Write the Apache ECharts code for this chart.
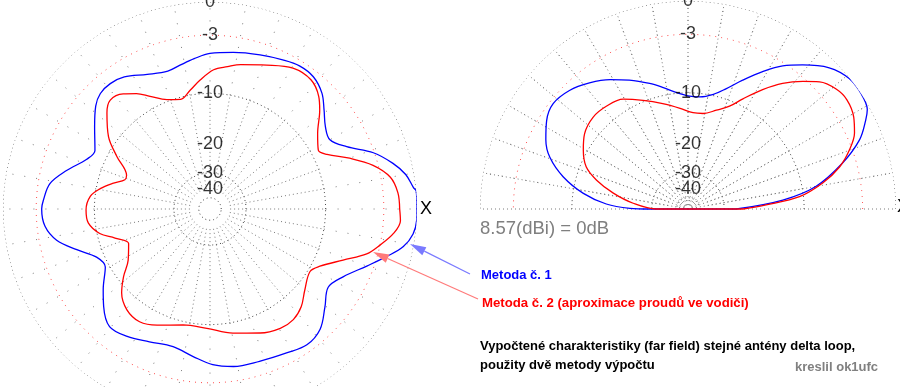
<!DOCTYPE html>
<html><head><meta charset="utf-8">
<script src="https://cdn.jsdelivr.net/npm/echarts@6/dist/echarts.min.js"></script>
<style>html,body{margin:0;padding:0;background:#fff}#c{width:900px;height:387px}</style>
</head><body><div id="c"></div>
<script>
// ---- data (dB relative to 8.57 dBi) ----
const azAngle1 = [0,5,6,10,14,19,24.5,30,35.5,41,46,52,58,64,72,81.5,90,96,102,107,115,123,128.5,133.5,138,144.5,153,158,165,171,177,180,186,191.5,197,203,209,217,222.5,229.5,237,245.5,255,263.5,271,278.5,288,298,305.5,312.5,319.5,326.5,333,340,345,349,353,357];
const azDb1 = [0,0,-0.2,-0.7,-1.6,-3.1,-5.5,-6.9,-6.5,-5.4,-4.3,-3.6,-3.5,-3.8,-4.2,-4.6,-4.9,-5.4,-5.9,-6.2,-5.7,-4.7,-4.4,-4.5,-5.1,-6.5,-8.1,-7.6,-5.7,-4.2,-3.7,-3.55,-3.8,-4.8,-6.8,-8.9,-9.4,-7.5,-6.2,-5.0,-5.3,-6.0,-6.4,-5.7,-4.9,-4.5,-4.4,-4.1,-3.7,-4.1,-5.4,-6.5,-5.6,-3.7,-2.1,-0.85,-0.2,0];
const azAngle2 = [0,5,10,15,20,25,28.5,35,42,46,52,59.5,68.5,78,83,88.5,94.5,99.5,105,111.5,118,122.5,127,132.5,137,144.5,150.5,158,161,165,169.5,174,180.5,186.5,192.5,197,203,212,218,223.5,230.5,238,245.5,257,268.5,280.5,292,300.5,307,313,319.5,328,332.5,339,344,348,352.5,356.5];
const azDb2 = [-1.5,-1.6,-2.1,-3.5,-5.7,-8.1,-8.9,-7.8,-5.8,-4.8,-4.0,-4.05,-5.0,-5.8,-6.3,-6.8,-8.1,-9.3,-10.3,-9.7,-8.3,-7.1,-6.2,-5.8,-6.6,-8.7,-11.3,-14.3,-14.3,-12.5,-10.6,-9.3,-8.8,-9.0,-10.4,-12.6,-14.6,-13.1,-10.9,-9.1,-7.9,-7.6,-8.3,-9.5,-9.45,-8.5,-7.5,-6.9,-6.9,-7.5,-8.7,-9.65,-8.8,-6.4,-4.1,-3.0,-1.9,-1.4];
const elAngle1 = [0,5.4,10,16.5,22,26.5,29,33.5,39,45,51.5,56.5,61.5,67,72.5,77.5,84,90,95.5,101.5,107,114.5,121,128,135,142,148,154,159.5,165.5,171.5,176.5,179.3,180];
const elDb1 = [-25,-13.4,-8.1,-4.4,-2.0,-0.8,-0.25,0,-0.05,-0.7,-2.1,-3.3,-4.9,-6.8,-8.6,-9.8,-10.5,-10.45,-9.9,-8.9,-7.9,-6.6,-5.5,-4.5,-3.7,-3.35,-3.8,-4.7,-5.9,-8.2,-11.6,-16.0,-21.9,-29];
const elAngle2 = [0,3,6.3,11,15.5,20,24.5,29,34.5,39,44,48,53,58,63.5,68,74,81,87,94.5,103.5,112.5,120.5,128.5,136,144,150.5,157.5,162.5,168,174,180];
const elDb2 = [-22.8,-16.8,-10.6,-7.1,-4.8,-3.3,-2.2,-1.6,-1.3,-1.5,-2.2,-3.3,-4.8,-6.7,-9.0,-10.8,-12.1,-13.15,-13.2,-12.4,-11.2,-9.8,-8.4,-7.9,-7.8,-8.35,-9.4,-10.9,-13.3,-17.2,-22.8,-32.3];
const ringDb = [0,-3,-10,-30,-50];
const tickDb = [0,-3,-10,-20,-30,-40];
const tickLabels = ['0','-3','-10','-20','-30','-40'];
const spokeStep = 10;

// ARRL-style log scale: radius factor 0.89 per 2 dB
const q = db => Math.pow(0.89, -db / 2);

const ringCol = '#444';
const spokeCol = '#7a7a7a';
const series = [];
function ringSeries(pi, db, a0, a1) {
  const d = [];
  for (let a = a0; a <= a1; a += 1) d.push([q(db), a]);
  const red = db === -3;
  series.push({type:'line', coordinateSystem:'polar', polarIndex:pi, symbol:'none', silent:true, clip:false, z:1,
    data:d, lineStyle:{color: red ? '#ff4a4a' : ringCol, width:1, type: red ? [1,5] : [1,3]}});
}
function spokeSeries(pi, a0, a1, fromDb, toDb, dash, r0) {
  const d = [];
  for (let a = a0; a <= a1; a += spokeStep) {
    d.push([r0 !== undefined ? r0 : q(fromDb), a]); d.push([q(toDb), a]); d.push(['-','-']);
  }
  series.push({type:'line', coordinateSystem:'polar', polarIndex:pi, symbol:'none', silent:true, clip:false, z:1,
    connectNulls:false, data:d, lineStyle:{color:spokeCol, width:1, type:dash}});
}
function labelSeries(pi) {
  series.push({type:'scatter', coordinateSystem:'polar', polarIndex:pi, symbolSize:0, silent:true, clip:false, z:5,
    data: tickDb.map((db,i)=>({value:[q(db),90], label:{formatter:tickLabels[i]}})),
    label:{show:true, position:'inside', color:'#000', fontSize:18, fontFamily:'Liberation Sans, Arial, sans-serif'}});
}
function curve(pi, ang, db, color, close) {
  const d = ang.map((a,i)=>[q(db[i]), a]);
  if (close) d.push(d[0]);
  series.push({type:'line', coordinateSystem:'polar', polarIndex:pi, symbol:'none', clip:false, z:4,
    smooth:0.35, data:d, lineStyle:{color:color, width:1.3}});
}

// left: azimuth (full circle)
ringDb.forEach(db=>ringSeries(0, db, 0, 360));
spokeSeries(0, 0, 350, -40, -10, [1,3]);
spokeSeries(0, 0, 350, -10, 0, [1,11]);
labelSeries(0);
curve(0, azAngle1, azDb1, '#0000ff', true);
curve(0, azAngle2, azDb2, '#ff0000', true);
// right: elevation (upper half)
ringDb.forEach(db=>ringSeries(1, db, 0, 180));
spokeSeries(1, 10, 170, -40, -10, [1,3]);
spokeSeries(1, 10, 170, -10, 0, [1,11]);
spokeSeries(1, 0, 180, -50, 0, [1,3], 0);
labelSeries(1);
curve(1, elAngle1, elDb1, '#0000ff', true);
curve(1, elAngle2, elDb2, '#ff0000', true);

const chart = echarts.init(document.getElementById('c'), null, {renderer:'canvas'});
function arrow(x1,y1,x2,y2,color){
  const dx=x2-x1, dy=y2-y1, L=Math.hypot(dx,dy), ux=dx/L, uy=dy/L, nx=-uy, ny=ux, hl=16, hw=4.5;
  const bx=x2-ux*hl, by=y2-uy*hl;
  return [
    {type:'line', shape:{x1:x1,y1:y1,x2:bx,y2:by}, style:{stroke:color, lineWidth:1.2}, z:10},
    {type:'polygon', shape:{points:[[x2,y2],[bx+nx*hw,by+ny*hw],[bx-nx*hw,by-ny*hw]]}, style:{fill:color}, z:10}
  ];
}
const ff = 'Liberation Sans, Arial, sans-serif';
function txt(x,y,s,color,size,weight){
  return {type:'text', x:x, y:y, z:10, style:{text:s, fill:color, fontSize:size, fontWeight:weight||'normal', fontFamily:ff, textVerticalAlign:'middle', textAlign:'left'}};
}
chart.setOption({
  animation:false,
  backgroundColor:'#fff',
  polar:[{center:[210,209], radius:207},{center:[688,209], radius:208}],
  angleAxis:[
    {polarIndex:0, type:'value', min:0, max:360, startAngle:0, clockwise:false, show:false},
    {polarIndex:1, type:'value', min:0, max:360, startAngle:0, clockwise:false, show:false}],
  radiusAxis:[
    {polarIndex:0, type:'value', min:0, max:1, show:false},
    {polarIndex:1, type:'value', min:0, max:1, show:false}],
  series:series,
  graphic:[
    txt(420,209,'X','#000',18),
    txt(897,207,'X','#000',18),
    txt(480,229,'8.57(dBi) = 0dB','#7f7f7f',18.5),
    txt(481,275,'Metoda č. 1','#0000ff',13,'bold'),
    txt(482,303,'Metoda č. 2 (aproximace proudů ve vodiči)','#ff0000',13.2,'bold'),
    txt(480,346,'Vypočtené charakteristiky (far field) stejné antény delta loop,','#000',13,'bold'),
    txt(480,365,'použity dvě metody výpočtu','#000',13,'bold'),
    txt(795,367,'kreslil ok1ufc','#808080',13,'bold'),
    ...arrow(470,274,410,244,'#7a7aff'),
    ...arrow(478,299,373,252,'#ff7a7a')
  ]
});
</script></body></html>
